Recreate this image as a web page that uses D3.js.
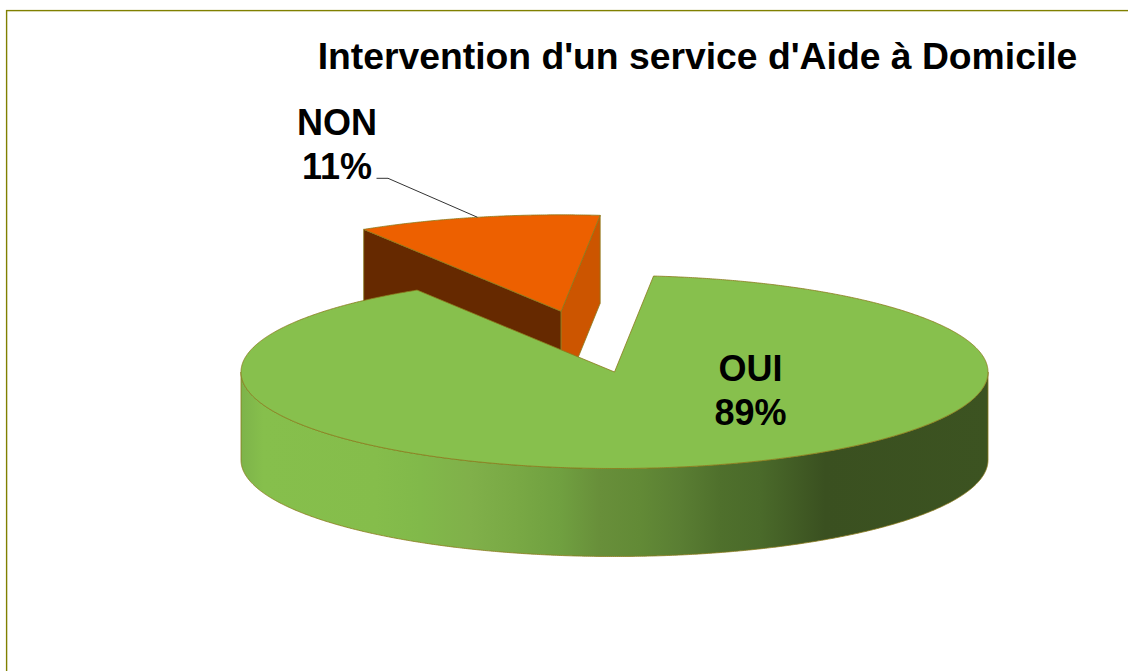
<!DOCTYPE html>
<html>
<head>
<meta charset="utf-8">
<script src="https://cdnjs.cloudflare.com/ajax/libs/d3/7.8.5/d3.min.js"></script>
<style>
    html, body { margin: 0; padding: 0; background: #fff; overflow: hidden; }
    svg { display: block; }
    text { font-family: "Liberation Sans", Arial, sans-serif; font-weight: bold; fill: #000; }
</style>
</head>
<body>
<svg id="svg" width="1128" height="671"></svg>
<script>
var chartTitle = "Intervention d'un service d'Aide à Domicile";
var categories = ["OUI", "NON"];
var shares = [89.47, 10.53];
var colorsTop = ["#87c04d", "#ed6000"];

// side of the big slice, shaded left to right
var shadeStops = [0, 0.03, 0.18, 0.24, 0.307, 0.373, 0.427, 0.48, 0.534, 0.588, 0.641, 0.695, 0.782, 1];
var shadeColors = ["#7db34a", "#86bf4c", "#85bd4b", "#81b94a", "#80b04a", "#78a844", "#70a040", "#688f3a", "#628a36", "#5a7e33", "#4f702c", "#4a6a2a", "#3a5020", "#3c5321"];

var svg = d3.select("#svg");
var borderColor = "#808000";
var edgeColor = "#8a7a1c";

var cx = 614.5, cy = 372, rx = 373.5, ry = 96.5, depth = 88;
var explode = 0.645;
var pullAngle = -12.8 * Math.PI / 180;

// unit circle -> tilted ellipse
var xScale = d3.scaleLinear().domain([-1, 1]).range([cx - rx, cx + rx]);
var yScale = d3.scaleLinear().domain([-1, 1]).range([cy - ry, cy + ry]);

var firstAngle = 6 * Math.PI / 180;
var pie = d3.pie().sort(null).startAngle(firstAngle).endAngle(firstAngle + 2 * Math.PI);
var slices = pie(shares);
var oui = slices[0], non = slices[1];
var nonMid = (non.startAngle + non.endAngle) / 2;

var line = d3.line();

function pt(a, r, ox, oy, drop) {
    return [xScale(r * Math.sin(a) + ox), yScale(-r * Math.cos(a) + oy) + drop];
}

function arcPoints(a0, a1, ox, oy, drop) {
    var n = Math.max(2, Math.ceil(Math.abs(a1 - a0) * 180));
    return d3.range(n + 1).map((i) => {
        return pt(a0 + (a1 - a0) * i / n, 1, ox, oy, drop);
    });
}

// border, runs off the right and bottom of the picture
svg.append("rect")
        .attr("x", 6.6)
        .attr("y", 10.6)
        .attr("width", 1200)
        .attr("height", 800)
        .attr("fill", "#fff")
        .attr("stroke", borderColor)
        .attr("stroke-width", 1.4);

var defs = svg.append("defs");
var grad = defs.append("linearGradient")
        .attr("id", "sideShade")
        .attr("gradientUnits", "userSpaceOnUse")
        .attr("x1", xScale(-1))
        .attr("x2", xScale(1))
        .attr("y1", 0)
        .attr("y2", 0);
shadeStops.forEach((s, i) => {
    grad.append("stop").attr("offset", s).attr("stop-color", shadeColors[i]);
});

// NON slice pulled out of the pie
var ox = Math.sin(pullAngle) * explode;
var oy = -Math.cos(pullAngle) * explode;
var apex = pt(0, 0, ox, oy, 0);
var apexLow = pt(0, 0, ox, oy, depth);
var leftTop = pt(non.startAngle, 1, ox, oy, 0);
var rightTop = pt(non.endAngle, 1, ox, oy, 0);

svg.append("path")
        .attr("d", line([leftTop, apex, apexLow, pt(non.startAngle, 1, ox, oy, depth)]) + "Z")
        .attr("fill", "#662900")
        .attr("stroke", edgeColor)
        .attr("stroke-width", 0.8);
svg.append("path")
        .attr("d", line([rightTop, apex, apexLow, pt(non.endAngle, 1, ox, oy, depth)]) + "Z")
        .attr("fill", "#cc5500")
        .attr("stroke", edgeColor)
        .attr("stroke-width", 0.8);
svg.append("path")
        .attr("d", line([apex].concat(arcPoints(non.startAngle, non.endAngle, ox, oy, 0))) + "Z")
        .attr("fill", colorsTop[1])
        .attr("stroke", edgeColor)
        .attr("stroke-width", 0.8);

// OUI slice: front wall then top
var wallTop = arcPoints(Math.PI / 2, 3 * Math.PI / 2, 0, 0, 0);
var wallLow = arcPoints(3 * Math.PI / 2, Math.PI / 2, 0, 0, depth);
svg.append("path")
        .attr("d", line(wallTop.concat(wallLow)) + "Z")
        .attr("fill", "url(#sideShade)")
        .attr("stroke", edgeColor)
        .attr("stroke-width", 0.8);
svg.append("path")
        .attr("d", line([pt(0, 0, 0, 0, 0)].concat(arcPoints(oui.startAngle, oui.endAngle, 0, 0, 0))) + "Z")
        .attr("fill", colorsTop[0])
        .attr("stroke", edgeColor)
        .attr("stroke-width", 0.8);

// leader from the NON label to the rim of its slice
var rim = pt(nonMid, 1, ox, oy, 0);
svg.append("path")
        .attr("d", line([[376.5, 178.3], [388, 178.3], rim]))
        .attr("fill", "none")
        .attr("stroke", "#333")
        .attr("stroke-width", 1);

svg.append("text")
        .attr("x", 697.5)
        .attr("y", 69)
        .attr("text-anchor", "middle")
        .style("font-size", "37.3px")
        .text(chartTitle);

var labelPos = [[750.5, 381, 425], [337, 135, 179]];
slices.forEach((d, i) => {
    var t = svg.append("text")
            .attr("text-anchor", "middle")
            .style("font-size", "36px");
    t.append("tspan")
            .attr("x", labelPos[i][0])
            .attr("y", labelPos[i][1])
            .text(categories[i]);
    t.append("tspan")
            .attr("x", labelPos[i][0])
            .attr("y", labelPos[i][2])
            .text(Math.round(shares[i]) + "%");
});
</script>
</body>
</html>
